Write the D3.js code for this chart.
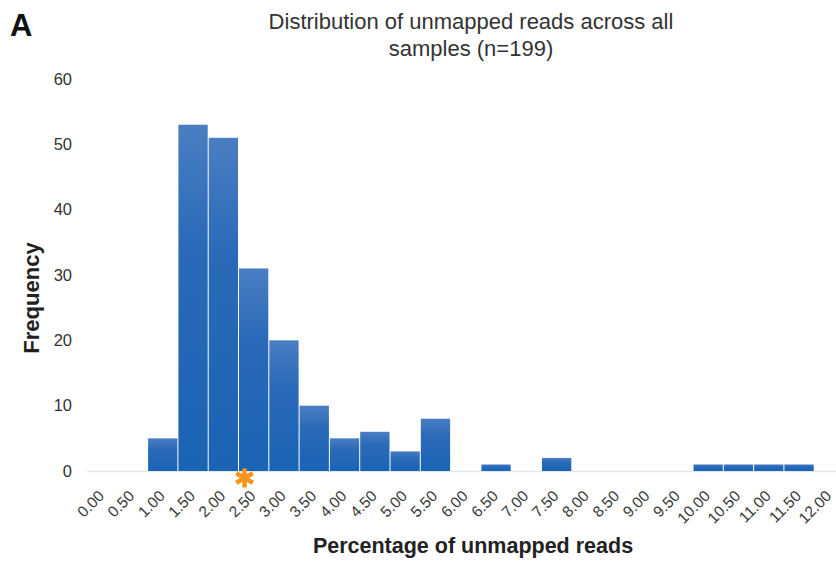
<!DOCTYPE html>
<html>
<head>
<meta charset="utf-8">
<script src="https://cdn.jsdelivr.net/npm/d3@7"></script>
<style>
  html, body { margin: 0; padding: 0; background: #fff; }
  svg { display: block; font-family: "Liberation Sans", Arial, sans-serif; }
</style>
</head>
<body>
<svg id="chart" width="836" height="565"></svg>
<script>
// ---- data ----
const binLabels = ["0.00","0.50","1.00","1.50","2.00","2.50","3.00","3.50","4.00","4.50","5.00","5.50","6.00","6.50","7.00","7.50","8.00","8.50","9.00","9.50","10.00","10.50","11.00","11.50","12.00"];
const frequencies = [0,0,5,53,51,31,20,10,5,6,3,8,0,1,0,2,0,0,0,0,1,1,1,1,0];
const yTicks = [0,10,20,30,40,50,60];
const markerValue = [2.6];
const titleLines = ["Distribution of unmapped reads across all", "samples (n=199)"];

const svg = d3.select("#chart");
const mLeft = 87, mRight = 844.5, mTop = 79, mBottom = 471;

const x = d3.scaleBand().domain(binLabels).range([mLeft, mRight]).padding(0);
const xLin = d3.scaleLinear().domain([0, binLabels.length * 0.5]).range([mLeft, mRight]);
const y = d3.scaleLinear().domain([0, 60]).range([mBottom, mTop]);

// gradient
const defs = svg.append("defs");
const grad = defs.append("linearGradient").attr("id", "barGrad")
  .attr("x1", 0).attr("y1", 0).attr("x2", 0).attr("y2", 1);
grad.append("stop").attr("offset", "0%").attr("stop-color", "#4a7ec2");
grad.append("stop").attr("offset", "35%").attr("stop-color", "#2a6ab8");
grad.append("stop").attr("offset", "100%").attr("stop-color", "#1a63b5");

// baseline
svg.append("line")
  .attr("x1", mLeft).attr("x2", 836)
  .attr("y1", y(0) + 0.5).attr("y2", y(0) + 0.5)
  .attr("stroke", "#e3e8ec").attr("stroke-width", 1.5);

// bars
svg.append("g").selectAll("rect")
  .data(binLabels.map((l, i) => ({ l, v: frequencies[i] })).filter(d => d.v > 0))
  .join("rect")
  .attr("x", d => x(d.l) + 0.5)
  .attr("width", x.bandwidth() - 1)
  .attr("y", d => y(d.v))
  .attr("height", d => y(0) - y(d.v))
  .attr("fill", "url(#barGrad)");

// y axis
const yAxis = d3.axisLeft(y).tickValues(yTicks).tickSize(0).tickPadding(0);
const gy = svg.append("g").attr("transform", `translate(72,0)`).call(yAxis);
gy.select(".domain").remove();
gy.selectAll("text").attr("font-size", 16.5).attr("fill", "#333")
  .attr("font-family", "Liberation Sans, Arial, sans-serif");

// x axis
const xAxis = d3.axisBottom(x).tickSize(0).tickPadding(0);
const gx = svg.append("g").attr("transform", `translate(0,${mBottom})`).call(xAxis);
gx.select(".domain").remove();
gx.selectAll("text")
  .attr("font-size", 15.5).attr("fill", "#3a3a3a")
  .attr("font-family", "Liberation Sans, Arial, sans-serif")
  .attr("text-anchor", "end")
  .attr("dy", null).attr("y", 0)
  .attr("transform", "translate(3,26) rotate(-45)");

// marker asterisk
svg.append("g").selectAll("path").data(markerValue).join("path")
  .attr("transform", d => `translate(${xLin(d)},478)`)
  .attr("d", d3.symbol(d3.symbolAsterisk, 260))
  .attr("stroke", "#f7941d").attr("stroke-width", 4.5).attr("fill", "none");

// title
svg.append("text").attr("x", 471).attr("y", 29)
  .attr("text-anchor", "middle").attr("font-size", 22).attr("fill", "#333")
  .selectAll("tspan").data(titleLines).join("tspan")
  .attr("x", 471).attr("dy", (d, i) => i === 0 ? 0 : 26.5).text(d => d);

// panel letter
svg.append("text").attr("x", 10).attr("y", 36)
  .attr("font-size", 31).attr("font-weight", "bold").attr("fill", "#111").text("A");

// axis titles
svg.append("text").attr("transform", "translate(39,298) rotate(-90)")
  .attr("text-anchor", "middle").attr("font-size", 22).attr("font-weight", "bold")
  .attr("fill", "#222").text("Frequency");
svg.append("text").attr("x", 473).attr("y", 553)
  .attr("text-anchor", "middle").attr("font-size", 21.5).attr("font-weight", "bold")
  .attr("fill", "#222").text("Percentage of unmapped reads");
</script>
</body>
</html>
